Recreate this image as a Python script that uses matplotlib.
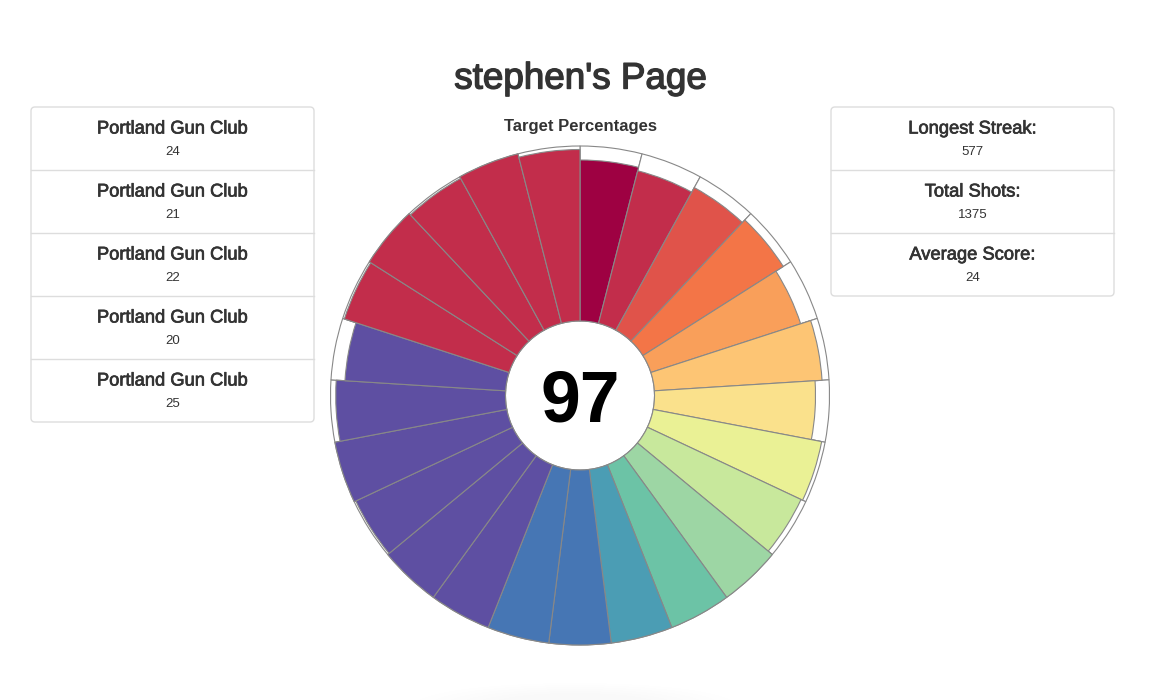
import numpy as np
import matplotlib
matplotlib.use("Agg")
import matplotlib.pyplot as plt
import matplotlib.patheffects as pe
from matplotlib.patches import FancyBboxPatch, Ellipse

plt.rcParams['font.family'] = ['Liberation Sans', 'DejaVu Sans']

# data
page_title = "stephen's Page"
chart_title = "Target Percentages"
center_value = 97

# target percentages, clockwise from 12 o'clock
scores = [92, 90, 93, 95, 90, 96, 92, 98, 97, 100, 100, 100, 100,
          100, 100, 100, 99, 100, 97, 92, 99, 100, 99, 100, 98]
wedge_colors = ["#9e0142", "#c22d4b", "#e0534a", "#f37547", "#f99f5a",
                "#fdc574", "#fae18c", "#eaf195", "#c8e89c", "#9dd6a4",
                "#6cc3a6", "#4b9db4", "#4676b4", "#4676b4",
                "#5e4fa2", "#5e4fa2", "#5e4fa2", "#5e4fa2", "#5e4fa2", "#5e4fa2",
                "#c22d4b", "#c22d4b", "#c22d4b", "#c22d4b", "#c22d4b"]

clubs = ["Portland Gun Club"] * 5
club_scores = [24, 21, 22, 20, 25]

stat_labels = ["Longest Streak:", "Total Shots:", "Average Score:"]
stat_values = [577, 1375, 24]

W, H = 1174, 700
fig = plt.figure(figsize=(W / 100, H / 100), dpi=100)
fig.patch.set_facecolor("white")

# page layer in pixel coordinates
bg = fig.add_axes([0, 0, 1, 1])
bg.set_xlim(0, W)
bg.set_ylim(H, 0)
bg.axis("off")

txt = "#333333"
# fake a "medium" weight with a thin outline
medium = [pe.withStroke(linewidth=0.5, foreground=txt)]
bg.text(580, 79, page_title, ha="center", va="center", fontsize=26.5, color=txt,
        path_effects=[pe.withStroke(linewidth=1.0, foreground=txt)])
bg.text(580, 127, chart_title, ha="center", va="center", fontsize=12, weight="bold", color=txt)


def panel(x0, x1, top, labels, values):
    row_h = 63
    n = len(labels)
    box = FancyBboxPatch((x0, top), x1 - x0, row_h * n,
                         boxstyle="round,pad=0,rounding_size=4",
                         fc="white", ec="#dddddd", lw=1)
    bg.add_patch(box)
    cx = (x0 + x1) / 2
    for i, (lab, val) in enumerate(zip(labels, values)):
        y = top + i * row_h
        if i > 0:
            bg.plot([x0, x1], [y, y], color="#dddddd", lw=1)
        bg.text(cx, y + 22, lab, ha="center", va="center", fontsize=13.2, color=txt,
                path_effects=medium)
        bg.text(cx, y + 45, str(val), ha="center", va="center", fontsize=9.5, color=txt)


panel(31, 314, 107, clubs, club_scores)
panel(831, 1114, 107, stat_labels, stat_values)

# faint shadow at the bottom
for k in range(6):
    bg.add_patch(Ellipse((575, 705), 320 - k * 30, 44 - k * 4,
                         fc="#000000", alpha=0.004, lw=0))

# radial chart
cx, cy = 580, 395.5
r_out, r_in = 249.5, 74.5
hole = 100 * r_in / (r_out - r_in)
ax = fig.add_axes([(cx - r_out) / W, (H - cy - r_out) / H, 2 * r_out / W, 2 * r_out / H],
                  projection="polar")
ax.set_theta_zero_location("N")
ax.set_theta_direction(-1)
n = len(scores)
theta = np.arange(n) * 2 * np.pi / n
width = 2 * np.pi / n
ax.bar(theta, [100] * n, width=width, bottom=hole, align="edge",
       color="white", edgecolor="#888888", linewidth=0.8, clip_on=False)
ax.bar(theta, scores, width=width, bottom=hole, align="edge",
       color=wedge_colors, edgecolor="#888888", linewidth=0.8, clip_on=False)
ax.set_ylim(0, hole + 100)
ax.set_xticks([])
ax.set_yticks([])
ax.grid(False)
ax.spines["polar"].set_visible(False)
ax.patch.set_alpha(0)

fig.text(cx / W, 1 - 421 / H, str(center_value), ha="center", va="baseline",
         fontsize=51.5, weight="bold", color="black")

fig.savefig("out.png", dpi=100)
